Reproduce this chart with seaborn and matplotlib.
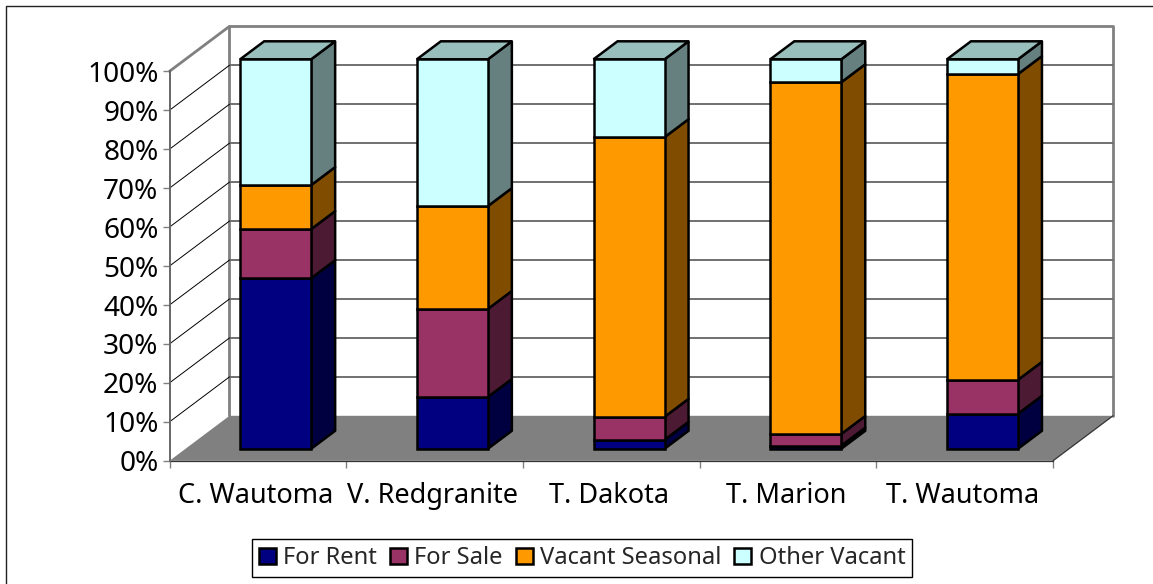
import numpy as np
import pandas as pd
import matplotlib
matplotlib.use('Agg')
import matplotlib.pyplot as plt
from matplotlib.patches import Patch, Polygon
from matplotlib.lines import Line2D
import seaborn as sns

places = ['C. Wautoma', 'V. Redgranite', 'T. Dakota', 'T. Marion', 'T. Wautoma']
for_rent = [43.8, 13.3, 2.3, 0.8, 9.0]
for_sale = [12.6, 22.6, 5.9, 3.0, 8.7]
vacant_seasonal = [11.3, 26.4, 71.8, 90.3, 78.5]
other_vacant = [32.3, 37.7, 20.0, 5.9, 3.8]

series_names = ['For Rent', 'For Sale', 'Vacant Seasonal', 'Other Vacant']
front_cols = ['#000080', '#993366', '#FF9900', '#CCFFFF']
side_cols = ['#000040', '#4D1A33', '#804D00', '#668080']
top_col = '#99BFBD'

W, H = 1153, 584
PX_X = 176.7  # pixels per category
PX_Y = 3.895  # pixels per percent

sns.set_style('white')
plt.rcParams['font.family'] = ['Noto Sans', 'DejaVu Sans']

df = pd.DataFrame({'place': places, 'For Rent': for_rent, 'For Sale': for_sale,
                   'Vacant Seasonal': vacant_seasonal, 'Other Vacant': other_vacant})

fig = plt.figure(figsize=(W / 100, H / 100), dpi=100)
ax = fig.add_axes([169.5 / W, 1 - 460.8 / H, 883.5 / W, 389.5 / H])

# how far the walls and the bars sit behind the front plane
wall_dx, wall_dy = 60 / PX_X, 45 / PX_Y
bar_dx, bar_dy = 17.8 / PX_X, 12 / PX_Y
depth_dx, depth_dy = 24 / PX_X, 18 / PX_Y
bar_w = 71 / PX_X

# stacked front faces
bottoms = np.zeros(len(places))
for name, col in zip(series_names, front_cols):
    n_before = len(ax.patches)
    sns.barplot(data=df, x='place', y=name, color=col, width=bar_w, bottom=bottoms + bar_dy,
                saturation=1, edgecolor='black', linewidth=1.8, errorbar=None, ax=ax)
    for p in ax.patches[n_before:]:
        p.set_x(p.get_x() + bar_dx)
        p.set_clip_on(False)
        p.set_zorder(5)
    # side faces
    for i, v in enumerate(df[name]):
        xr = i + bar_dx + bar_w / 2
        y0 = bottoms[i] + bar_dy
        side = Polygon([(xr, y0), (xr + depth_dx, y0 + depth_dy),
                        (xr + depth_dx, y0 + v + depth_dy), (xr, y0 + v)],
                       facecolor=side_cols[series_names.index(name)], edgecolor='black',
                       linewidth=1.8, joinstyle='round', clip_on=False, zorder=4)
        ax.add_patch(side)
    bottoms = bottoms + df[name].values

# top faces
for i, total in enumerate(bottoms):
    xl = i + bar_dx - bar_w / 2
    xr = i + bar_dx + bar_w / 2
    y1 = total + bar_dy
    ax.add_patch(Polygon([(xl, y1), (xr, y1), (xr + depth_dx, y1 + depth_dy), (xl + depth_dx, y1 + depth_dy)],
                         facecolor=top_col, edgecolor='black', linewidth=1.8,
                         clip_on=False, zorder=4))

ax.set_xlim(-0.5, 4.5)
ax.set_ylim(0, 100)

# floor and walls
x0, x1 = -0.5, 4.5
ax.add_patch(Polygon([(x0, 0), (x1, 0), (x1 + wall_dx, wall_dy), (x0 + wall_dx, wall_dy)],
                     facecolor='#808080', edgecolor='none', clip_on=False, zorder=1))
ax.plot([x0, x0 + wall_dx, x0 + wall_dx], [100, 100 + wall_dy, wall_dy], color='#808080', lw=2.0,
        clip_on=False, zorder=2)
ax.plot([x0 + wall_dx, x1 + wall_dx, x1 + wall_dx], [100 + wall_dy, 100 + wall_dy, wall_dy],
        color='#808080', lw=2.0, clip_on=False, zorder=2)
ax.plot([x1, x1 + wall_dx], [0, wall_dy], color='#333333', lw=0.9, clip_on=False, zorder=2)

yvals = np.arange(0, 101, 10)
for y in yvals[1:-1]:
    ax.plot([x0 + wall_dx, x1 + wall_dx], [y + wall_dy, y + wall_dy], color='#707070', lw=1.4,
            clip_on=False, zorder=2)
for y in yvals[1:]:
    if y < 100:
        ax.plot([x0, x0 + wall_dx], [y, y + wall_dy], color='black', lw=0.7, clip_on=False, zorder=2)

# axes
ax.set_xlabel('')
ax.set_ylabel('')
ax.set_yticks(yvals)
ax.set_yticklabels(['%d%%' % y for y in yvals], fontsize=20.2, color='black')
ax.set_xticks(np.arange(5) - 0.01)
ax.set_xticklabels(places, fontsize=19.5, color='black')
ax.set_xticks(np.arange(-0.5, 5), minor=True)
ax.tick_params(axis='x', which='major', length=0, pad=15)
ax.tick_params(axis='x', which='minor', length=5, width=1, color='#808080', bottom=True)
ax.tick_params(axis='y', length=5, width=1, color='#808080', pad=3, left=True)
for s in ['top', 'right']:
    ax.spines[s].set_visible(False)
ax.spines['left'].set_color('#666666')
ax.spines['left'].set_linewidth(1.4)
ax.spines['bottom'].set_color('#333333')
ax.spines['bottom'].set_linewidth(0.9)
ax.spines['left'].set_zorder(6)
ax.patch.set_alpha(0)

handles = [Patch(facecolor=c, edgecolor='black', linewidth=1.8, label=n)
           for c, n in zip(front_cols, series_names)]
fig.legend(handles=handles, loc='center', bbox_to_anchor=(582 / W, 1 - 558 / H), ncol=4,
           fontsize=17.1, frameon=True, fancybox=False, framealpha=1, edgecolor='black',
           handlelength=0.72, handleheight=0.65, handletextpad=0.3, columnspacing=0.55,
           borderpad=0.28, borderaxespad=0)

# chart border, only top and left are inside the picture
fig.add_artist(Line2D([1, 6 / W, 6 / W], [1 - 6 / H, 1 - 6 / H, 0], color='#222222', lw=1.0))

fig.savefig('out.png', dpi=100)
